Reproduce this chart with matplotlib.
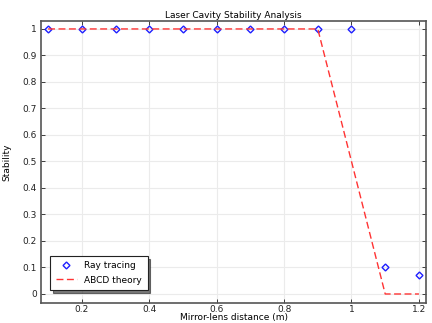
import matplotlib
matplotlib.use("Agg")
import matplotlib.pyplot as plt
import numpy as np

# mirror-lens distance (m)
dist = [0.1, 0.2, 0.3, 0.4, 0.5, 0.6, 0.7, 0.8, 0.9, 1.0, 1.1, 1.2]
ray_tracing = [1, 1, 1, 1, 1, 1, 1, 1, 1, 1, 0.1, 0.07]
abcd_theory = [1, 1, 1, 1, 1, 1, 1, 1, 1, 0.5, 0, 0]

plt.rcParams['font.family'] = ['DejaVu Sans']
plt.rcParams['font.size'] = 6.5

fig = plt.figure(figsize=(4.32, 3.23), dpi=100)
ax = fig.add_axes([41/432, 20/323, 385/432, 282/323])

ax.plot(dist, ray_tracing, linestyle='none', marker='D', markersize=3.5,
        markerfacecolor='none', markeredgecolor='#1f1fff', markeredgewidth=1.0,
        label='Ray tracing')
ax.plot(dist, abcd_theory, color='#ff3333', linestyle=(0, (5, 2.5)), linewidth=1.0,
        label='ABCD theory')

ax.set_xlim(0.079, 1.221)
ax.set_ylim(-0.034, 1.03)
ax.set_xticks([0.2, 0.4, 0.6, 0.8, 1.0, 1.2])
ax.set_xticklabels(['0.2', '0.4', '0.6', '0.8', '1', '1.2'])
ax.set_yticks(np.arange(0, 1.01, 0.1))
ax.set_yticklabels(['0', '0.1', '0.2', '0.3', '0.4', '0.5', '0.6', '0.7', '0.8', '0.9', '1'])
ax.grid(True, color='#ebebeb', linewidth=0.8)
ax.tick_params(direction='in', length=3, width=0.6, top=True, right=True,
               colors='#222222', labelsize=6.5)
ax.tick_params(axis='x', pad=1.5)
ax.tick_params(axis='y', pad=3)
for s in ax.spines.values():
    s.set_color('#555555')
    s.set_linewidth(1.2)

ax.set_title('Laser Cavity Stability Analysis', fontsize=6.5, pad=2.5)
ax.set_xlabel('Mirror-lens distance (m)', fontsize=6.5, labelpad=-1)
ax.set_ylabel('Stability', fontsize=6.5, labelpad=8)

leg = ax.legend(loc='lower left', bbox_to_anchor=(0.012, 0.03), frameon=True,
                fancybox=False, shadow={'color': '#222222', 'alpha': 0.6},
                edgecolor='#222222', borderpad=0.6, handlelength=2.4,
                handletextpad=0.8, labelspacing=0.6, fontsize=6.5)
leg.get_frame().set_linewidth(0.8)

fig.savefig('out.png', dpi=100)
